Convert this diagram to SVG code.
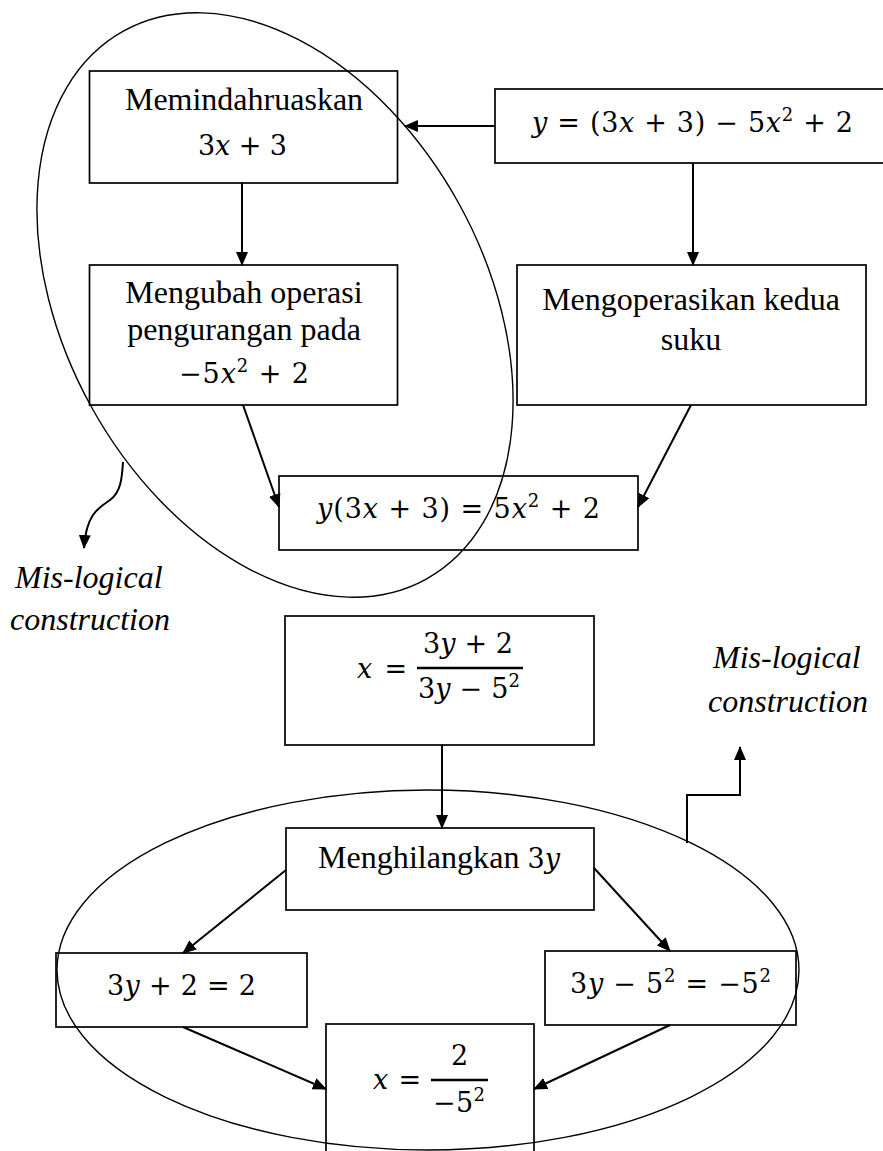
<svg xmlns="http://www.w3.org/2000/svg" width="883" height="1151" viewBox="0 0 883 1151">
<style>
.box{fill:none;stroke:#000;stroke-width:1.7}
.ell{fill:none;stroke:#000;stroke-width:1.4}
.con{fill:none;stroke:#000;stroke-width:2}
.t{font-family:"Liberation Serif","Times New Roman",serif;font-size:32px;fill:#000}
.ti{font-family:"Liberation Serif","Times New Roman",serif;font-size:32px;font-style:italic;fill:#000}
.m{font-family:"DejaVu Serif","Liberation Serif",serif;font-size:27px;fill:#000}
.v{font-style:italic}
.sup{font-size:18px}
.bar{stroke:#000;stroke-width:2.6}
</style>
<defs>
<marker id="ah" markerWidth="14" markerHeight="12" refX="13" refY="6" orient="auto" markerUnits="userSpaceOnUse">
<path d="M0,0 L14,6 L0,12 z" fill="#000"/>
</marker>
</defs>

<g id="ellipse-top">
<ellipse class="ell" cx="275" cy="305" rx="210" ry="313" transform="rotate(-28.9 275 305)"/>
</g>
<g id="ellipse-bottom">
<ellipse class="ell" cx="428" cy="970" rx="371" ry="180"/>
</g>

<g id="connectors">
<line class="con" x1="495" y1="126" x2="405" y2="126" marker-end="url(#ah)"/>
<line class="con" x1="242" y1="183" x2="242" y2="265" marker-end="url(#ah)"/>
<line class="con" x1="693" y1="163" x2="693" y2="265" marker-end="url(#ah)"/>
<line class="con" x1="243" y1="405" x2="279" y2="507" marker-end="url(#ah)"/>
<line class="con" x1="691" y1="405" x2="638" y2="507" marker-end="url(#ah)"/>
<path class="con" d="M123,462 C122,478 121,492 110,500 C98,508 86,515 84,548" marker-end="url(#ah)" stroke-width="2.4"/>
<line class="con" x1="442" y1="745" x2="442" y2="828" marker-end="url(#ah)"/>
<path class="con" d="M687,843 V795 H740 V747" marker-end="url(#ah)"/>
<line class="con" x1="286" y1="870" x2="183" y2="953" marker-end="url(#ah)"/>
<line class="con" x1="594" y1="868" x2="670" y2="951" marker-end="url(#ah)"/>
<line class="con" x1="183" y1="1027" x2="326" y2="1089" marker-end="url(#ah)"/>
<line class="con" x1="670" y1="1025" x2="534" y2="1089" marker-end="url(#ah)"/>
</g>

<g id="node-memindahruaskan">
<rect class="box" x="89.5" y="71" width="308" height="112"/>
<text class="t" x="244" y="110" text-anchor="middle">Memindahruaskan</text>
<text class="m" x="198" y="155" textLength="89" lengthAdjust="spacing">3<tspan class="v">x</tspan> + 3</text>
</g>

<g id="node-equation">
<rect class="box" x="495" y="89" width="400" height="74"/>
<text class="m" x="532" y="132" textLength="321" lengthAdjust="spacing"><tspan class="v">y</tspan> = (3<tspan class="v">x</tspan> + 3) − 5<tspan class="v">x</tspan><tspan class="sup" dy="-11">2</tspan><tspan dy="11"> + 2</tspan></text>
</g>

<g id="node-mengubah">
<rect class="box" x="89.5" y="265" width="308" height="140"/>
<text class="t" x="244" y="303" text-anchor="middle">Mengubah operasi</text>
<text class="t" x="244" y="340" text-anchor="middle">pengurangan pada</text>
<text class="m" x="179" y="383" textLength="130" lengthAdjust="spacing">−5<tspan class="v">x</tspan><tspan class="sup" dy="-11">2</tspan><tspan dy="11"> + 2</tspan></text>
</g>

<g id="node-mengoperasikan">
<rect class="box" x="517" y="265" width="349" height="140"/>
<text class="t" x="691" y="310" text-anchor="middle">Mengoperasikan kedua</text>
<text class="t" x="691" y="350" text-anchor="middle">suku</text>
</g>

<g id="node-result1">
<rect class="box" x="279" y="476" width="359" height="74"/>
<text class="m" x="317" y="518" textLength="283" lengthAdjust="spacing"><tspan class="v">y</tspan>(3<tspan class="v">x</tspan> + 3) = 5<tspan class="v">x</tspan><tspan class="sup" dy="-11">2</tspan><tspan dy="11"> + 2</tspan></text>
</g>

<g id="label-left">
<text class="ti" x="15" y="588">Mis-logical</text>
<text class="ti" x="10" y="630">construction</text>
</g>

<g id="node-fraction">
<rect class="box" x="285" y="616" width="309" height="129"/>
<text class="m" x="357" y="678" textLength="50" lengthAdjust="spacing"><tspan class="v">x</tspan> =</text>
<line class="bar" x1="417" y1="668" x2="523" y2="668"/>
<text class="m" x="423" y="653" textLength="90" lengthAdjust="spacing">3<tspan class="v">y</tspan> + 2</text>
<text class="m" x="418" y="698" textLength="102" lengthAdjust="spacing">3<tspan class="v">y</tspan> − 5<tspan class="sup" dy="-11">2</tspan></text>
</g>

<g id="label-right">
<text class="ti" x="713" y="668">Mis-logical</text>
<text class="ti" x="708" y="712">construction</text>
</g>

<g id="node-menghilangkan">
<rect class="box" x="286" y="828" width="308" height="82"/>
<text class="t" x="318" y="868" textLength="242" lengthAdjust="spacing">Menghilangkan <tspan class="m">3</tspan><tspan class="m v">y</tspan></text>
</g>

<g id="node-left-eq">
<rect class="box" x="56" y="953" width="251" height="74"/>
<text class="m" x="107" y="995" textLength="149" lengthAdjust="spacing">3<tspan class="v">y</tspan> + 2 = 2</text>
</g>

<g id="node-right-eq">
<rect class="box" x="545" y="951" width="251" height="74"/>
<text class="m" x="570" y="993" textLength="201" lengthAdjust="spacing">3<tspan class="v">y</tspan> − 5<tspan class="sup" dy="-11">2</tspan><tspan dy="11"> = −5</tspan><tspan class="sup" dy="-11">2</tspan></text>
</g>

<g id="node-final">
<rect class="box" x="326" y="1024" width="208" height="150"/>
<text class="m" x="373" y="1089" textLength="48" lengthAdjust="spacing"><tspan class="v">x</tspan> =</text>
<line class="bar" x1="431" y1="1080" x2="488" y2="1080"/>
<text class="m" x="459.5" y="1065" text-anchor="middle">2</text>
<text class="m" x="433" y="1112" textLength="52" lengthAdjust="spacing">−5<tspan class="sup" dy="-11">2</tspan></text>
</g>
</svg>
